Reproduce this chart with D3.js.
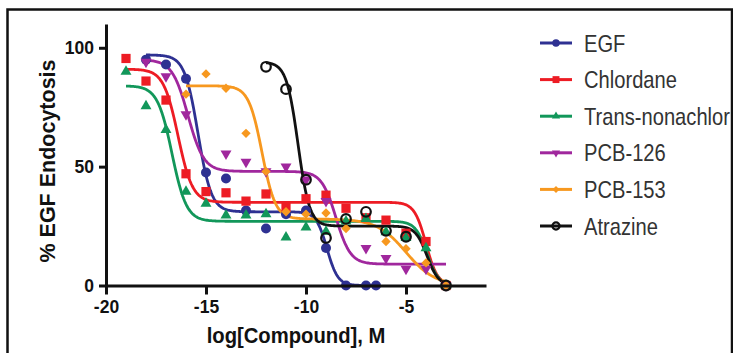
<!DOCTYPE html>
<html><head><meta charset="utf-8">
<script src="https://cdn.jsdelivr.net/npm/d3@7"></script>
<style>
html,body{margin:0;padding:0;background:#fff;}
svg{display:block;font-family:Arial,"Liberation Sans",sans-serif;}
</style></head>
<body>
<svg id="chart" width="733" height="353"></svg>
<script>
// ---- Data ----
const seriesNames = ["EGF","Chlordane","Trans-nonachlor","PCB-126","PCB-153","Atrazine"];
const seriesColors = ["#2e3192","#ed1c24","#12975a","#a0279d","#f7981f","#111111"];

const egfX = [-18,-17,-16,-15,-14,-13,-12,-11,-10,-9,-8,-7,-6.5];
const egfY = [95,93,87,47.5,45,31.5,24,30,31.5,15.8,0,0,0];

const chlordaneX = [-19,-18,-17,-16,-15,-14,-13,-12,-11,-10,-9,-8,-7,-6,-5,-4,-3];
const chlordaneY = [95.5,86,78,47,39.5,39,35.5,38.5,33,36.5,38,32.5,28.5,27.5,22,18.5,0];

const transX = [-19,-18,-17,-16,-15,-14,-13,-12,-11,-10,-9,-8,-7,-6,-5,-4,-3];
const transY = [90,75.5,65.5,39.5,34.5,29.5,29.5,30,20.3,24.5,22.7,27,28,22.5,20,15.7,0];

const pcb126X = [-18,-17,-16,-14,-13,-12,-11,-10,-9,-7,-6,-5,-4,-3];
const pcb126Y = [94,88,72,55.5,52,48,50,44.5,35.5,15.7,11.5,7,7,0];

const pcb153X = [-16,-15,-14,-13,-12,-11,-10,-9,-8,-6,-5,-4,-3];
const pcb153Y = [80.5,89,83,64,48,31,30,30.5,24,18.5,15.5,9.5,0];

const atrazineX = [-12,-11,-10,-9,-8,-7,-6,-5,-3];
const atrazineY = [92,82.6,44.5,20,28,31,23,20.5,0];

// Fitted biphasic curve parameters (one entry per series)
const fitTop    = [97, 91, 84, 95, 84, 94];
const fitMid    = [31, 35, 27, 48, 28, 25];
const fitBottom = [0, 0, 0, 9, 0, 0];
const fitEc1    = [-15.4, -16.4, -16.7, -15.9, -12.2, -10.4];
const fitHill1  = [1.3, 1.2, 1.2, 1.1, 1.3, 1.5];
const fitEc2    = [-8.95, -4.0, -3.95, -8.5, -5.0, -3.95];
const fitHill2  = [1.6, 1.5, 1.5, 1.2, 0.6, 1.5];
const fitXmin   = [-18, -19, -19, -18, -16, -12];
const fitXmax   = [-6.5, -3, -3, -3, -3, -3];

const xTicks = [-20,-15,-10,-5];
const yTicks = [0,50,100];
const xTitle = "log[Compound], M";
const yTitle = "% EGF Endocytosis";

// ---- Drawing ----
const svg = d3.select("#chart");
const x = d3.scaleLinear().domain([-20,-1]).range([106,486]);
const y = d3.scaleLinear().domain([0,110]).range([285.5,24]);

// frame
svg.append("rect").attr("x",7.5).attr("y",9.5).attr("width",724.5).attr("height",360)
  .attr("fill","none").attr("stroke","#111").attr("stroke-width",2.5);

const seriesX = [egfX,chlordaneX,transX,pcb126X,pcb153X,atrazineX];
const seriesY = [egfY,chlordaneY,transY,pcb126Y,pcb153Y,atrazineY];

// curves
const line = d3.line().x(d=>x(d[0])).y(d=>y(d[1])).curve(d3.curveLinear);
seriesNames.forEach((name,i)=>{
  const n = 300, pts = [];
  for(let k=0;k<=n;k++){
    const xv = fitXmin[i] + (fitXmax[i]-fitXmin[i])*k/n;
    const yv = fitBottom[i] + (fitMid[i]-fitBottom[i])/(1+Math.pow(10,(xv-fitEc2[i])*fitHill2[i]))
             + (fitTop[i]-fitMid[i])/(1+Math.pow(10,(xv-fitEc1[i])*fitHill1[i]));
    pts.push([xv,yv]);
  }
  svg.append("path").datum(pts).attr("d",line).attr("fill","none")
    .attr("stroke",seriesColors[i]).attr("stroke-width",2.8).attr("stroke-linejoin","round");
});

// marker helper
function marker(g, i, cx, cy, scale){
  const c = seriesColors[i];
  const s = scale||1;
  if(i===0){
    g.append("circle").attr("cx",cx).attr("cy",cy).attr("r",5*s).attr("fill",c);
  } else if(i===1){
    g.append("path").attr("d",d3.symbol(d3.symbolSquare,85*s*s)()).attr("transform",`translate(${cx},${cy})`).attr("fill",c);
  } else if(i===2){
    g.append("path").attr("d",d3.symbol(d3.symbolTriangle,52*s*s)()).attr("transform",`translate(${cx},${cy})`).attr("fill",c);
  } else if(i===3){
    g.append("path").attr("d",d3.symbol(d3.symbolTriangle,52*s*s)()).attr("transform",`translate(${cx},${cy}) rotate(180)`).attr("fill",c);
  } else if(i===4){
    g.append("path").attr("d",d3.symbol(d3.symbolSquare,44*s*s)()).attr("transform",`translate(${cx},${cy}) rotate(45)`).attr("fill",c);
  } else {
    g.append("circle").attr("cx",cx).attr("cy",cy).attr("r",4.8*s).attr("fill","none")
      .attr("stroke",c).attr("stroke-width",2.2);
  }
}

// points
const gp = svg.append("g");
seriesNames.forEach((name,i)=>{
  seriesX[i].forEach((xv,k)=>marker(gp,i,x(xv),y(seriesY[i][k])));
});

// axes
const ax = svg.append("g").attr("transform",`translate(0,${y(0)})`)
  .call(d3.axisBottom(x).tickValues(xTicks).tickFormat(d=>String(d)).tickSize(9).tickSizeOuter(0).tickPadding(6));
const ay = svg.append("g").attr("transform",`translate(${x(-20)},0)`)
  .call(d3.axisLeft(y).tickValues(yTicks).tickFormat(d=>String(d)).tickSize(7).tickSizeOuter(0).tickPadding(5));
[ax,ay].forEach(a=>{
  a.select(".domain").attr("stroke","#111").attr("stroke-width",3);
  a.selectAll(".tick line").attr("stroke","#111").attr("stroke-width",3);
  a.selectAll(".tick text").attr("fill","#111").attr("font-size",17.5).attr("font-weight","bold")
    .attr("font-family","Arial,'Liberation Sans',sans-serif");
});

// titles
svg.append("text").attr("transform",`translate(296,343) scale(0.9,1)`).attr("text-anchor","middle")
  .attr("font-size",22.5).attr("font-weight","bold").attr("fill","#111").text(xTitle);
svg.append("text").attr("transform",`translate(55,161) rotate(-90)`).attr("text-anchor","middle")
  .attr("font-size",21.5).attr("font-weight","bold").attr("fill","#111").text(yTitle);

// legend
const lg = svg.append("g");
seriesNames.forEach((name,i)=>{
  const ry = 43 + i*36.6;
  lg.append("line").attr("x1",540).attr("x2",572).attr("y1",ry).attr("y2",ry)
    .attr("stroke",seriesColors[i]).attr("stroke-width",3);
  marker(lg,i,556,ry,0.75);
  lg.append("text").attr("transform",`translate(584,${ry+8.6}) scale(0.84,1)`)
    .attr("font-size",24).attr("fill","#333").text(name);
});
</script>
</body></html>
